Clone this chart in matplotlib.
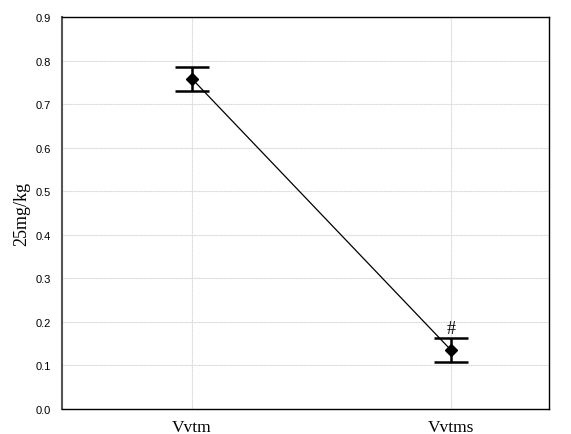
import matplotlib
matplotlib.use("Agg")
import matplotlib.pyplot as plt

categories = ["Vvtm", "Vvtms"]
means = [0.758, 0.135]
errors = [0.028, 0.028]
annotations = ["", "#"]
yticks = [0.0, 0.1, 0.2, 0.3, 0.4, 0.5, 0.6, 0.7, 0.8, 0.9]

fig = plt.figure(figsize=(5.71, 4.35), dpi=100)
ax = fig.add_axes([62/571, 1-410/435, 487/571, 392/435])

x = list(range(len(categories)))
ax.plot(x, means, color="black", linewidth=0.9, zorder=3)
ax.errorbar(x, means, yerr=errors, fmt="D", color="black", markersize=6,
            ecolor="black", elinewidth=1.8, capsize=12, capthick=1.8, zorder=4)
for xi, m, e, a in zip(x, means, errors, annotations):
    if a:
        ax.text(xi, m + e + 0.002, a, ha="center", va="bottom",
                fontfamily="Liberation Serif", fontsize=13)

ax.set_xlim(-0.502, 1.378)
ax.set_ylim(0, 0.9)
ax.set_yticks(yticks)
ax.set_yticklabels([f"{v:.1f}" for v in yticks], fontfamily="Liberation Sans", fontsize=8)
ax.set_xticks(x)
ax.set_xticklabels(categories, fontfamily="Liberation Serif", fontsize=12.5)
ax.tick_params(axis="y", length=0, pad=8)
ax.tick_params(axis="x", length=0, pad=7)
ax.set_ylabel("25mg/kg", fontfamily="Liberation Serif", fontsize=13, labelpad=4)
ax.grid(True, color="#d6d6d6", linestyle=(0, (1, 0.5)), linewidth=0.8)
ax.set_axisbelow(True)
for s in ax.spines.values():
    s.set_color("black")
    s.set_linewidth(1.0)
ax.spines["left"].set_color("#555555")
ax.spines["left"].set_linewidth(1.5)

fig.savefig("out.png", dpi=100)
